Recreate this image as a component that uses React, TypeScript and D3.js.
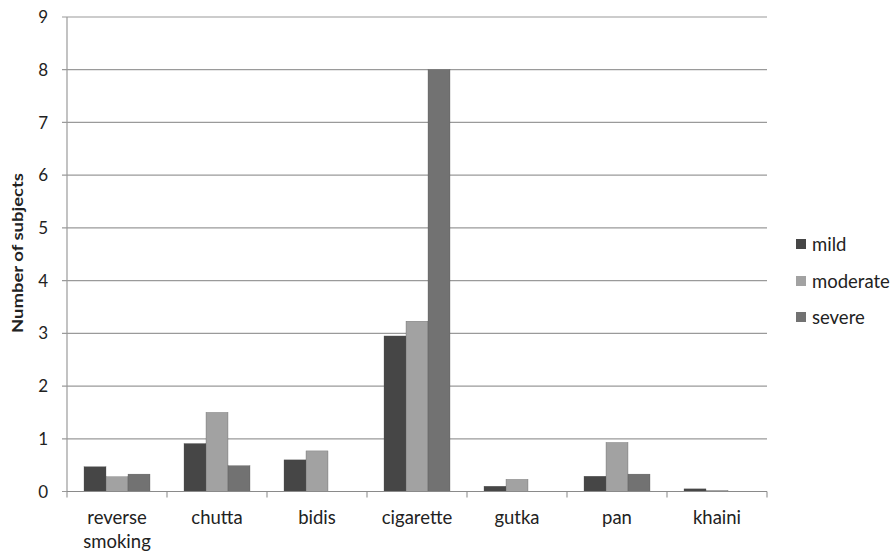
import React from "react";
import * as d3 from "d3";

const categories = ["reverse smoking", "chutta", "bidis", "cigarette", "gutka", "pan", "khaini"];
const seriesNames = ["mild", "moderate", "severe"];
const mild = [0.47, 0.91, 0.6, 2.95, 0.1, 0.29, 0.05];
const moderate = [0.28, 1.5, 0.77, 3.23, 0.23, 0.93, 0.02];
const severe = [0.33, 0.49, 0, 8, 0, 0.33, 0];
const yTicks = [0, 1, 2, 3, 4, 5, 6, 7, 8, 9];
const colors = ["#464646", "#a2a2a2", "#727272"];

const W = 895;
const H = 555;
const left = 67;
const right = 767;
const top = 17;
const bottom = 491.5;
const font = "Lato, 'Open Sans', sans-serif";

export default function App() {
  const series = [mild, moderate, severe];
  const x0 = d3.scaleBand<string>().domain(categories).range([left, right]).paddingInner(0.34).paddingOuter(0.17);
  const x1 = d3.scaleBand<string>().domain(seriesNames).range([0, x0.bandwidth()]);
  const y = d3.scaleLinear().domain([0, 9]).range([bottom, top]);
  const step = x0.step();

  return (
    <svg width={W} height={H} style={{ position: "absolute", left: 0, top: 0, background: "#fff" }}>
      {yTicks.map((t) => (
        <g key={t}>
          <line x1={left - 5} x2={right} y1={y(t)} y2={y(t)} stroke="#9a9a9a" strokeWidth={1.2} />
          <text x={48} y={y(t)} dy="0.36em" textAnchor="end" fontFamily={font} fontSize={17} fill="#222">
            {t}
          </text>
        </g>
      ))}
      <line x1={left} x2={left} y1={top} y2={bottom} stroke="#9a9a9a" strokeWidth={1.2} />
      {categories.map((c, i) => (
        <line key={c} x1={left + step * (i + 1)} x2={left + step * (i + 1)} y1={bottom} y2={bottom + 6} stroke="#9a9a9a" strokeWidth={1.2} />
      ))}
      <line x1={left} x2={left} y1={bottom} y2={bottom + 6} stroke="#9a9a9a" strokeWidth={1.2} />
      {categories.map((c, i) => (
        <g key={c}>
          {series.map((s, j) => {
            const v = s[i];
            if (v <= 0) return null;
            return (
              <rect
                key={j}
                x={(x0(c) as number) + (x1(seriesNames[j]) as number)}
                y={y(v)}
                width={x1.bandwidth()}
                height={bottom - y(v)}
                fill={colors[j]}
                stroke="#555"
                strokeWidth={0.3}
              />
            );
          })}
        </g>
      ))}
      <line x1={left} x2={right} y1={bottom} y2={bottom} stroke="#8a8a8a" strokeWidth={1.2} />
      {categories.map((c) => {
        const cx = (x0(c) as number) + x0.bandwidth() / 2;
        const parts = c === "reverse smoking" ? ["reverse", "smoking"] : [c];
        return (
          <text key={c} x={cx} y={524} textAnchor="middle" fontFamily={font} fontSize={18.5} fill="#222">
            {parts.map((p, k) => (
              <tspan key={k} x={cx} dy={k === 0 ? 0 : 24}>
                {p}
              </tspan>
            ))}
          </text>
        );
      })}
      <text
        transform={`translate(23, ${253}) rotate(-90)`}
        textAnchor="middle"
        fontFamily={font}
        fontSize={15}
        fontWeight="bold"
        fill="#222"
        textLength={160}
        lengthAdjust="spacingAndGlyphs"
      >
        Number of subjects
      </text>
      {seriesNames.map((n, j) => {
        const ly = [244, 281, 317][j];
        return (
          <g key={n}>
            <rect x={796} y={ly - 5} width={10} height={10} fill={colors[j]} />
            <text x={812} y={ly} dy="0.36em" fontFamily={font} fontSize={18.5} fill="#222">
              {n}
            </text>
          </g>
        );
      })}
    </svg>
  );
}
